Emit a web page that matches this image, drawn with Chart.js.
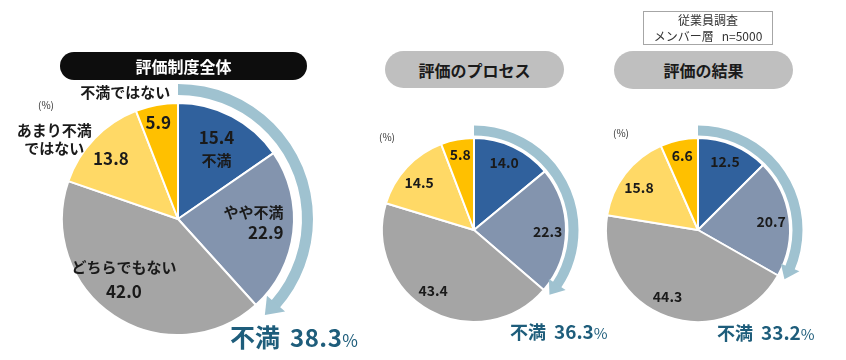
<!DOCTYPE html>
<html><head><meta charset="utf-8">
<script src="https://cdn.jsdelivr.net/npm/chart.js@4/dist/chart.umd.min.js"></script>
<style>
html,body{margin:0;padding:0;background:#fff;}
#wrap{position:relative;width:846px;height:360px;overflow:hidden;font-family:"Noto Sans CJK JP","Noto Sans",sans-serif;}
canvas{position:absolute;left:0;top:0;}
.pill{position:absolute;display:flex;align-items:center;justify-content:center;font-weight:bold;box-sizing:border-box;}
.box{position:absolute;left:643px;top:11px;width:130px;height:34px;border:1px solid #a6a6a6;box-sizing:border-box;text-align:center;font-size:12px;line-height:16px;color:#333;}
.unit{position:absolute;font-size:10px;color:#333;}
.total{position:absolute;white-space:nowrap;color:#1e5d7b;}
.total .k{font-weight:bold;}
.total .n{font-weight:bold;}
.total .p{font-weight:normal;}
</style></head>
<body><div id="wrap">
<canvas id="c1" width="846" height="360"></canvas>
<canvas id="c2" width="846" height="360"></canvas>
<canvas id="c3" width="846" height="360"></canvas>
<div class="pill" id="t1" style="left:60px;top:52px;width:247px;height:28px;border-radius:14px;background:#0d0d0d;color:#fff;font-size:16px;"></div>
<div class="pill" id="t2" style="left:385px;top:51px;width:179px;height:37px;border-radius:19px;background:#bfbfbf;color:#1a1a1a;font-size:16px;"></div>
<div class="pill" id="t3" style="left:614px;top:51px;width:179px;height:38px;border-radius:19px;background:#bfbfbf;color:#1a1a1a;font-size:16px;"></div>
<div class="box">従業員調査<br>メンバー層&nbsp;&nbsp;&nbsp;n=5000</div>
<div class="unit" style="left:38px;top:97px;">(%)</div>
<div class="unit" style="left:379px;top:129px;">(%)</div>
<div class="unit" style="left:613px;top:125px;">(%)</div>
<div class="total" id="s1" style="left:230px;top:320px;line-height:32px;"></div>
<div class="total" id="s2" style="left:510px;top:318px;line-height:26px;"></div>
<div class="total" id="s3" style="left:717px;top:319px;line-height:26px;"></div>
</div>
<script>
// ---- data ----
const categories = ['不満','やや不満','どちらでもない','あまり不満ではない','不満ではない'];
const categoryLines = [['不満'],['やや不満'],['どちらでもない'],['あまり不満','ではない'],['不満ではない']];
const chartTitles = ['評価制度全体','評価のプロセス','評価の結果'];
const overallValues = [15.4, 22.9, 42.0, 13.8, 5.9];
const processValues = [14.0, 22.3, 43.4, 14.5, 5.8];
const resultValues  = [12.5, 20.7, 44.3, 15.8, 6.6];
const dissatisfiedLabel = '不満';

const sliceColors = ['#30619d','#8394ae','#a5a5a5','#ffd966','#ffc000'];
const arrowColor = '#9fc2d0';
const labelColor = '#1a1a1a';
const FONT = '"Noto Sans CJK JP","Noto Sans",sans-serif';

const decoById = {};
const decor = {
  id:'decor',
  afterDatasetsDraw(chart){
    const o = decoById[chart.canvas.id];
    const ctx = chart.ctx;
    const arcs = chart.getDatasetMeta(0).data;
    const vals = chart.data.datasets[0].data;
    const cx = arcs[0].x, cy = arcs[0].y, R = arcs[0].outerRadius;
    ctx.save();
    // arrow around the dissatisfied slices
    const a0 = arcs[0].startAngle, a1 = arcs[o.arrowUpTo].endAngle;
    const rm = R + o.arrowGap + o.arrowWidth/2;
    const hA = o.headLen / rm;
    const bA = a1 - hA;
    ctx.fillStyle = arrowColor;
    ctx.beginPath();
    ctx.arc(cx, cy, rm + o.arrowWidth/2, a0, bA + 0.01);
    ctx.arc(cx, cy, rm - o.arrowWidth/2, bA + 0.01, a0, true);
    ctx.closePath(); ctx.fill();
    ctx.beginPath();
    ctx.moveTo(cx + (rm + o.headHalf)*Math.cos(bA), cy + (rm + o.headHalf)*Math.sin(bA));
    ctx.lineTo(cx + rm*Math.cos(a1), cy + rm*Math.sin(a1));
    ctx.lineTo(cx + (rm - o.headHalf)*Math.cos(bA), cy + (rm - o.headHalf)*Math.sin(bA));
    ctx.closePath(); ctx.fill();
    // labels
    ctx.fillStyle = labelColor;
    ctx.textBaseline = 'middle';
    const drawBlock = (i, lay, lines) => {
      const a = (arcs[i].startAngle + arcs[i].endAngle)/2 + (lay.shift||0)*Math.PI/180;
      const x = cx + R*lay.frac*Math.cos(a), y = cy + R*lay.frac*Math.sin(a);
      const lh = lay.lh || 20;
      ctx.textAlign = lay.align || 'center';
      lines.forEach((ln, k) => {
        ctx.font = 'bold ' + (ln.num ? o.numSize : o.textSize) + 'px ' + FONT;
        ctx.fillText(ln.t, x, y + (k - (lines.length-1)/2)*lh);
      });
    };
    o.inside.forEach((lay, i) => {
      const num = {t: vals[i].toFixed(1), num:true};
      const cat = lay.cat ? categoryLines[i].map(t => ({t})) : [];
      const lines = lay.catFirst ? cat.concat([num]) : [num].concat(cat);
      drawBlock(i, lay, lines);
    });
    (o.outside||[]).forEach(lay => {
      drawBlock(lay.slice, lay, categoryLines[lay.slice].map(t => ({t})));
    });
    ctx.restore();
  }
};

function makePie(id, values, pad, deco){
  decoById[id] = deco;
  return new Chart(document.getElementById(id), {
    type:'pie',
    data:{labels:categories, datasets:[{data:values, backgroundColor:sliceColors, borderColor:'#ffffff', borderWidth:2}]},
    options:{
      responsive:false, animation:false, events:[],
      layout:{padding:pad},
      plugins:{legend:{display:false}, tooltip:{enabled:false}}
    },
    plugins:[decor]
  });
}

makePie('c1', overallValues, {left:61, top:102, right:551, bottom:24}, {
  arrowUpTo:1, arrowGap:8, arrowWidth:11, headHalf:12, headLen:16, numSize:17, textSize:15,
  inside:[
    {frac:0.69, shift:1, lh:22, cat:true},
    {frac:0.91, shift:-5, lh:20, cat:true, catFirst:true, align:'right'},
    {frac:0.70, shift:8.3, lh:24, cat:true, catFirst:true},
    {frac:0.78, shift:-1.8},
    {frac:0.845, shift:-1}
  ],
  outside:[
    {slice:4, frac:1.18, shift:-12},
    {slice:3, frac:1.27, shift:-11, lh:18}
  ]
});
const smallInside = [{frac:0.8, shift:-1},{frac:0.8, shift:1},{frac:0.8, shift:5},{frac:0.79, shift:-2},{frac:0.83, shift:0}];
makePie('c2', processValues, {left:381, top:137, right:279, bottom:37}, {
  arrowUpTo:1, arrowGap:2.5, arrowWidth:10, headHalf:10, headLen:13, numSize:14, textSize:14,
  inside: smallInside
});
makePie('c3', resultValues, {left:605, top:137, right:55, bottom:37}, {
  arrowUpTo:1, arrowGap:2.5, arrowWidth:10, headHalf:10, headLen:13, numSize:14, textSize:14,
  inside: smallInside
});

// titles and totals
['t1','t2','t3'].forEach((id,i)=>{ document.getElementById(id).textContent = chartTitles[i]; });
const totals = [overallValues, processValues, resultValues].map(v => (v[0]+v[1]).toFixed(1));
const sizes = [[25,24,17,10,0.5],[18,19,15,8,0],[18,19,15,8,0]];
['s1','s2','s3'].forEach((id,i)=>{
  const [k,n,p,gap,ls] = sizes[i];
  document.getElementById(id).innerHTML =
    '<span class="k" style="font-size:'+k+'px">'+dissatisfiedLabel+'</span>' +
    '<span class="n" style="font-size:'+n+'px;margin-left:'+gap+'px;letter-spacing:'+ls+'px">'+totals[i]+'</span>' +
    '<span class="p" style="font-size:'+p+'px">%</span>';
});
</script>
</body></html>
